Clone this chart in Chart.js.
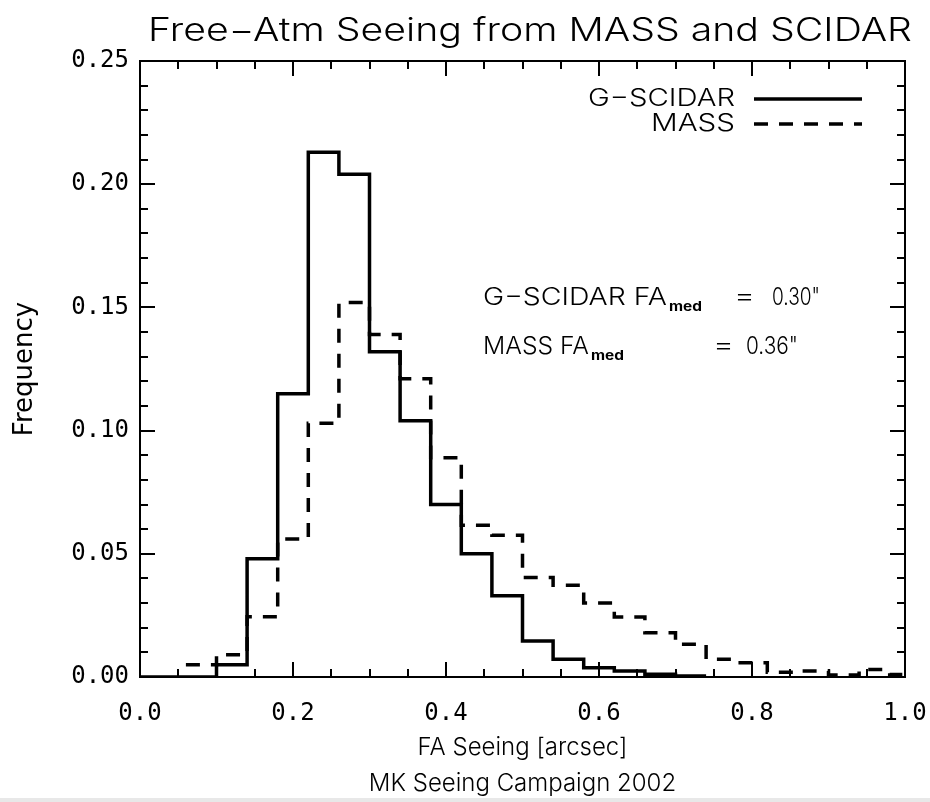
<!DOCTYPE html>
<html>
<head>
<meta charset="utf-8">
<script src="https://cdn.jsdelivr.net/npm/chart.js@4.4.0/dist/chart.umd.min.js"></script>
<style>
  html, body { margin: 0; padding: 0; background: #fff; }
  #c { display: block; }
</style>
</head>
<body>
<canvas id="c" width="930" height="802"></canvas>
<script>
// histogram bin edges (bin width 0.04")
const binEdges = [-0.02, 0.02, 0.06, 0.10, 0.14, 0.18, 0.22, 0.26, 0.30, 0.34, 0.38, 0.42, 0.46,
  0.50, 0.54, 0.58, 0.62, 0.66, 0.70, 0.74, 0.78, 0.82, 0.86, 0.90, 0.94, 0.98, 1.02];
// frequency in each bin, starting at binEdges[0]
const scidarFreq = [0, 0, 0, 0.005, 0.048, 0.115, 0.213, 0.204, 0.132, 0.104, 0.070, 0.050, 0.033,
  0.0146, 0.0072, 0.0038, 0.0024, 0.0011, 0.0004];
const massFreq = [null, null, 0.005, 0.009, 0.0245, 0.056, 0.103, 0.152, 0.139, 0.121, 0.089, 0.0616, 0.0575,
  0.0404, 0.0372, 0.030, 0.0244, 0.018, 0.0133, 0.0072, 0.0058, 0.0019, 0.0024, 0.0008, 0.003, 0.001];
const seriesNames = ['G\u2212SCIDAR', 'MASS'];
const xTickLabels = ['0.0', '0.2', '0.4', '0.6', '0.8', '1.0'];
const yTickLabels = ['0.00', '0.05', '0.10', '0.15', '0.20', '0.25'];
const medians = ['0.30"', '0.36"'];

const FONT = 'Inter, "DejaVu Sans", sans-serif';
const MONO = '"DejaVu Sans Mono", "Liberation Mono", monospace';

// step points: each value runs from its left edge to the next edge
function stepPoints(freq) {
  const pts = [];
  freq.forEach((v, i) => {
    if (v !== null) pts.push({ x: binEdges[i], y: v });
  });
  pts.push({ x: binEdges[freq.length], y: freq[freq.length - 1] });
  return pts;
}

// draw text squeezed/stretched to a given width (the IDL font is wide)
function fitText(ctx, text, x, y, w, size, align, weight) {
  ctx.save();
  ctx.font = (weight || 300) + ' ' + size + 'px ' + FONT;
  const m = ctx.measureText(text).width;
  ctx.translate(x, y);
  ctx.scale(w / m, 1);
  ctx.textAlign = align || 'left';
  ctx.textBaseline = 'middle';
  ctx.fillStyle = '#000';
  ctx.fillText(text, 0, 0);
  ctx.restore();
}

const idlDecor = {
  id: 'idlDecor',
  afterDatasetsDraw(chart) {
    const ctx = chart.ctx;
    const a = chart.chartArea;
    const xs = chart.scales.x, ys = chart.scales.y;
    ctx.save();
    ctx.strokeStyle = '#000';
    ctx.lineWidth = 2;
    ctx.strokeRect(a.left, a.top, a.right - a.left, a.bottom - a.top);
    ctx.beginPath();
    for (let k = 0; k <= 20; k++) {
      const px = Math.round(xs.getPixelForValue(k * 0.05));
      const len = k % 4 === 0 ? 15 : 8;
      ctx.moveTo(px, a.bottom); ctx.lineTo(px, a.bottom - len);
      ctx.moveTo(px, a.top); ctx.lineTo(px, a.top + len);
    }
    for (let k = 0; k <= 25; k++) {
      const py = Math.round(ys.getPixelForValue(k * 0.01));
      const len = k % 5 === 0 ? 15 : 8;
      ctx.moveTo(a.left, py); ctx.lineTo(a.left + len, py);
      ctx.moveTo(a.right, py); ctx.lineTo(a.right - len, py);
    }
    ctx.stroke();

    // legend: text then line sample
    const ds = chart.data.datasets;
    const legY = [99, 124];
    const legW = [147, 84];
    ds.forEach((d, i) => {
      fitText(ctx, d.label, 735, legY[i], legW[i], 24, 'right');
      ctx.beginPath();
      ctx.lineWidth = d.borderWidth;
      ctx.setLineDash(d.borderDash || []);
      ctx.moveTo(754, legY[i]);
      ctx.lineTo(862, legY[i]);
      ctx.stroke();
    });
    ctx.setLineDash([]);

    // median annotations
    fitText(ctx, seriesNames[0] + ' FA', 483, 298, 184, 24, 'left');
    fitText(ctx, 'med', 669, 307, 33, 13, 'left', 700);
    fitText(ctx, '=', 734, 297, 21, 24, 'left');
    fitText(ctx, medians[0], 772, 298, 48, 24, 'left');
    fitText(ctx, seriesNames[1] + ' FA', 483, 347, 106, 24, 'left');
    fitText(ctx, 'med', 591, 356, 33, 13, 'left', 700);
    fitText(ctx, '=', 713, 346, 21, 24, 'left');
    fitText(ctx, medians[1], 746, 347, 52, 24, 'left');

    // title
    fitText(ctx, 'Free\u2212Atm Seeing from MASS and SCIDAR', 148, 31, 764, 32, 'left');
    ctx.restore();
  },
  afterDraw(chart) {
    const ctx = chart.ctx;
    ctx.save();
    ctx.fillStyle = '#e8e8e8';
    ctx.fillRect(0, 798, chart.width, chart.height - 798);
    ctx.restore();
  }
};

new Chart(document.getElementById('c'), {
  type: 'line',
  data: {
    datasets: [
      {
        label: seriesNames[0],
        data: stepPoints(scidarFreq),
        stepped: true,
        borderColor: '#000',
        borderWidth: 3.5,
        pointRadius: 0,
        fill: false
      },
      {
        label: seriesNames[1],
        data: stepPoints(massFreq),
        stepped: true,
        borderColor: '#000',
        borderWidth: 3.5,
        borderDash: [14, 11],
        pointRadius: 0,
        fill: false
      }
    ]
  },
  options: {
    responsive: false,
    animation: false,
    layout: { padding: { top: 61, right: 25, left: 0, bottom: 0 } },
    plugins: {
      legend: { display: false },
      title: { display: false },
      tooltip: { enabled: false }
    },
    scales: {
      x: {
        type: 'linear',
        min: 0,
        max: 1,
        grid: { display: false, drawTicks: false },
        border: { display: false },
        afterFit: (s) => { s.height = 125; s.paddingLeft = 0; s.paddingRight = 0; },
        ticks: {
          stepSize: 0.2,
          padding: 22,
          color: '#000',
          font: { family: MONO, size: 24 },
          callback: (v) => xTickLabels[Math.round(v / 0.2)]
        },
        title: {
          display: true,
          text: ['FA Seeing [arcsec]', 'MK Seeing Campaign 2002'],
          color: '#000',
          font: { family: FONT, size: 24, weight: 300, lineHeight: 1.5 },
          padding: { top: 0, bottom: 0 }
        }
      },
      y: {
        min: 0,
        max: 0.25,
        grid: { display: false, drawTicks: false },
        border: { display: false },
        afterFit: (s) => { s.width = 140; s.paddingTop = 0; s.paddingBottom = 0; },
        ticks: {
          stepSize: 0.05,
          padding: 11,
          color: '#000',
          font: { family: MONO, size: 24 },
          callback: (v) => yTickLabels[Math.round(v / 0.05)]
        },
        title: {
          display: true,
          text: 'Frequency',
          color: '#000',
          font: { family: '"DejaVu Sans", sans-serif', size: 26 },
          padding: { top: 10, bottom: 0 }
        }
      }
    }
  },
  plugins: [idlDecor]
});
</script>
</body>
</html>
